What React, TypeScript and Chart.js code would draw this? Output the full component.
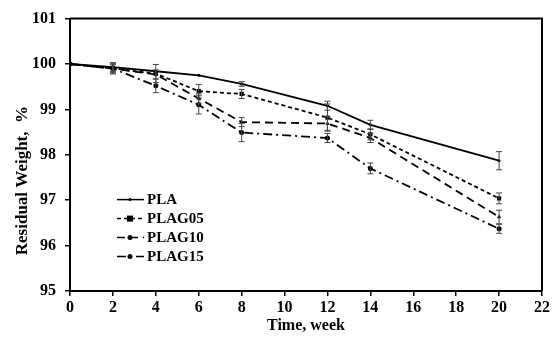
import React, { useEffect, useRef } from "react";
import { Chart, registerables } from "chart.js";

Chart.register(...registerables);

const weeks = [0, 2, 4, 6, 8, 12, 14, 20];
const PLA = [100, 99.93, 99.84, 99.75, 99.56, 99.08, 98.66, 97.87];
const PLAG05 = [100, 99.9, 99.79, 99.4, 99.34, 98.82, 98.45, 97.04];
const PLAG10 = [100, 99.9, 99.77, 99.24, 98.72, 98.69, 98.37, 96.63];
const PLAG15 = [100, 99.9, 99.52, 99.1, 98.49, 98.37, 97.7, 96.37];

const PLA_err = [0, 0.1, 0, 0, 0.05, 0.1, 0.1, 0.2];
const PLAG05_err = [0, 0.12, 0.2, 0.15, 0.1, 0.3, 0.12, 0.12];
const PLAG10_err = [0, 0.08, 0.1, 0.1, 0.1, 0.15, 0.1, 0.15];
const PLAG15_err = [0, 0.1, 0.15, 0.2, 0.2, 0.1, 0.12, 0.1];

const seriesNames = ["PLA", "PLAG05", "PLAG10", "PLAG15"];
const xTitle = "Time, week";
const yTitle = "Residual Weight,  %";

const FONT = "'Liberation Serif', 'Times New Roman', serif";

const styles = [
  { dash: [], pointStyle: "circle", radius: 1.5 },
  { dash: [4, 3], pointStyle: "rect", radius: 3 },
  { dash: [8, 5], pointStyle: "triangle", radius: 2.5 },
  { dash: [9, 4, 2, 4], pointStyle: "circle", radius: 2.5 },
];

const errorBarPlugin = {
  id: "errorBars",
  afterDatasetsDraw(chart: any) {
    const { ctx, scales } = chart;
    const xs = scales.x;
    const ys = scales.y;
    ctx.save();
    ctx.strokeStyle = "#444";
    ctx.lineWidth = 1;
    chart.data.datasets.forEach((ds: any) => {
      ds.data.forEach((p: any, i: number) => {
        const e = ds.errors[i];
        if (!e) return;
        const x = xs.getPixelForValue(p.x);
        const y1 = ys.getPixelForValue(p.y + e);
        const y2 = ys.getPixelForValue(p.y - e);
        ctx.beginPath();
        ctx.moveTo(x, y1);
        ctx.lineTo(x, y2);
        ctx.moveTo(x - 3, y1);
        ctx.lineTo(x + 3, y1);
        ctx.moveTo(x - 3, y2);
        ctx.lineTo(x + 3, y2);
        ctx.stroke();
      });
    });
    ctx.restore();
  },
};

const framePlugin = {
  id: "frame",
  afterDraw(chart: any) {
    const { ctx, chartArea } = chart;
    ctx.save();
    ctx.strokeStyle = "#000";
    ctx.lineWidth = 2;
    ctx.beginPath();
    ctx.moveTo(chartArea.left, chartArea.top);
    ctx.lineTo(chartArea.right, chartArea.top);
    ctx.lineTo(chartArea.right, chartArea.bottom);
    ctx.stroke();
    // y axis title
    ctx.translate(chartArea.left - 47, chartArea.top + 162);
    ctx.rotate(-Math.PI / 2);
    ctx.font = `bold 17px ${FONT}`;
    ctx.fillStyle = "#000";
    ctx.textAlign = "center";
    ctx.textBaseline = "middle";
    ctx.fillText(yTitle, 0, 0);
    ctx.restore();
  },
};

const legendPlugin = {
  id: "customLegend",
  afterDraw(chart: any) {
    const { ctx, chartArea } = chart;
    const x0 = chartArea.left + 47;
    const y0 = chartArea.top + 181;
    ctx.save();
    chart.data.datasets.forEach((ds: any, i: number) => {
      const y = y0 + i * 19;
      ctx.strokeStyle = "#000";
      ctx.lineWidth = 1.5;
      ctx.setLineDash(ds.borderDash || []);
      ctx.beginPath();
      ctx.moveTo(x0, y);
      ctx.lineTo(x0 + 27, y);
      ctx.stroke();
      ctx.setLineDash([]);
      ctx.fillStyle = "#000";
      const cx = x0 + 13;
      const r = ds.pointRadius;
      if (ds.pointStyle === "rect") {
        ctx.fillRect(cx - r, y - r, 2 * r, 2 * r);
      } else {
        ctx.beginPath();
        ctx.arc(cx, y, r, 0, Math.PI * 2);
        ctx.fill();
      }
      ctx.font = `bold 15px ${FONT}`;
      ctx.textBaseline = "middle";
      ctx.textAlign = "left";
      ctx.fillText(ds.label, x0 + 30, y + 1);
    });
    ctx.restore();
  },
};

export default function App() {
  const ref = useRef<HTMLCanvasElement>(null);

  useEffect(() => {
    if (!ref.current) return;
    const seriesValues = [PLA, PLAG05, PLAG10, PLAG15];
    const seriesErrors = [PLA_err, PLAG05_err, PLAG10_err, PLAG15_err];
    const datasets = seriesNames.map((name, k) => ({
      label: name,
      data: weeks.map((w, i) => ({ x: w, y: seriesValues[k][i] })),
      errors: seriesErrors[k],
      borderColor: "#000",
      backgroundColor: "#000",
      borderWidth: 1.8,
      borderDash: styles[k].dash,
      pointStyle: styles[k].pointStyle,
      pointRadius: styles[k].radius,
      pointBackgroundColor: "#000",
      pointBorderColor: "#000",
      pointBorderWidth: 0,
      tension: 0,
      fill: false,
    }));

    const chart = new Chart(ref.current, {
      type: "line",
      data: { datasets } as any,
      options: {
        animation: false,
        responsive: false,
        maintainAspectRatio: false,
        layout: { padding: { left: 0, right: 18, top: 18, bottom: 0 } },
        plugins: {
          legend: { display: false },
          tooltip: { enabled: false },
        },
        scales: {
          x: {
            type: "linear",
            min: 0,
            max: 22,
            afterFit: (s: any) => {
              s.height = 52;
            },
            ticks: {
              stepSize: 2,
              color: "#000",
              padding: 2,
              maxRotation: 0,
              font: { family: FONT, size: 16, weight: "bold" },
            },
            grid: {
              drawOnChartArea: false,
              drawTicks: true,
              tickLength: 5,
              color: "#000",
              lineWidth: 1.5,
            },
            border: { color: "#000", width: 2 },
            title: {
              display: true,
              text: xTitle,
              color: "#000",
              font: { family: FONT, size: 16, weight: "bold" },
              padding: { top: 0, bottom: 8 },
            },
          },
          y: {
            type: "linear",
            min: 95,
            max: 101,
            afterFit: (s: any) => {
              s.width = 70;
            },
            ticks: {
              stepSize: 1,
              color: "#000",
              padding: 9,
              font: { family: FONT, size: 16, weight: "bold" },
            },
            grid: {
              drawOnChartArea: false,
              drawTicks: true,
              tickLength: 5,
              color: "#000",
              lineWidth: 1.5,
            },
            border: { color: "#000", width: 2 },
            title: { display: false },
          },
        },
      } as any,
      plugins: [errorBarPlugin, framePlugin, legendPlugin],
    });
    return () => chart.destroy();
  }, []);

  return (
    <div style={{ position: "absolute", left: 0, top: 0, width: 560, height: 343, background: "#fff" }}>
      <canvas ref={ref} width={560} height={343} style={{ display: "block" }} />
    </div>
  );
}
